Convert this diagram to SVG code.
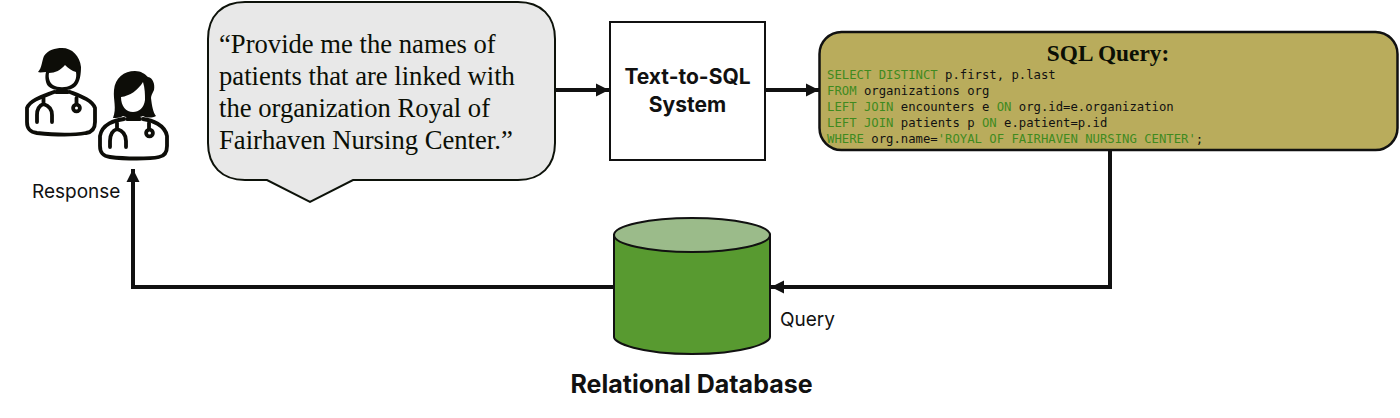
<svg xmlns="http://www.w3.org/2000/svg" width="1400" height="418" viewBox="0 0 1400 418">
<style>
.sans{font-family:"Inter","Liberation Sans",sans-serif;fill:#111}
.serif{font-family:"Liberation Serif","Times New Roman",serif;fill:#0b0f05}
.mono{font-family:"DejaVu Sans Mono","Liberation Mono",monospace;font-size:12.25px;fill:#111}
.kw{fill:#3f8a1f}
.conn{fill:none;stroke:#111;stroke-width:4}
.icon{fill:none;stroke:#0d0d08;stroke-width:3.800;stroke-linecap:round;stroke-linejoin:round}
.hair{fill:#0d0d08;stroke:none}
.face{fill:#fff;stroke:none}
</style>
<defs>
<marker id="arrow" markerUnits="userSpaceOnUse" markerWidth="14" markerHeight="14" refX="13" refY="7" orient="auto"><path d="M0,0.5L13,7L0,13.500Z" fill="#111"/></marker>
</defs>
<rect width="1400" height="418" fill="#fff"/>
<g id="connectors">
<path class="conn" d="M556,90H609" marker-end="url(#arrow)"/>
<path class="conn" d="M766,90H819" marker-end="url(#arrow)"/>
<path class="conn" d="M1110,151V287H771" marker-end="url(#arrow)"/>
<path class="conn" d="M614,287H133V169" marker-end="url(#arrow)"/>
</g>
<g id="doctor-male">
<path class="hair" d="M38,72C42,68 42,60 44,56C48,50 55,48 62,48C72,48 80,56 81,67C81,74 80,82 76,86C70,92 54,92 48,86C45,82 45,76 46,72C43,72 40,73 38,72Z"/>
<path class="face" d="M49,73C55,73 61,70 65,65C68,68 72,71 76,72C77,78 75,83 71,85C66,88 58,88 53,85C50,83 48,78 49,73Z"/>
<path class="icon" d="M54,92C44,96 30,100 27,108V122C27,129 30,132 37,133C55,135 75,135 86,133C93,132 95,128 95,122V108C92,100 80,96 70,92"/>
<path class="icon" d="M56,92H68" stroke-width="3"/>
<path class="icon" d="M43.500,98V104C38,106 37,110 37,115V122M43.500,104C50,106 52,110 52,115V122M76.500,98V104" stroke-width="3"/>
<circle class="icon" cx="76.500" cy="108" r="3.400"/>
</g>
<g id="doctor-female">
<path class="hair" d="M113,118C117,108 113,100 114,90C115,78 124,71 135,71C141,71 145,74 148,77C153,78 155,84 154,90C152,94 151,96 151,98C152,106 153,112 156,116C152,118 147,118 143,116C138,118 128,118 123,116C120,118 116,118 113,118Z"/>
<path class="face" d="M121,97C130,96 138,90 143,82C145,88 145,95 145,100C144,108 139,112 133,112C126,112 121,106 121,97Z"/>
<path class="icon" d="M124,119C115,120 102,124 100,136V146C100,153 103,156 110,157C125,159 150,159 159,157C165,156 167,152 167,146V136C165,125 152,120 143,119"/>
<path class="icon" d="M127,119H140" stroke-width="3"/>
<path class="icon" d="M117,123V129C111,131 110,136 110,141V147M117,129C124,131 126,136 126,141V147M149,123V129" stroke-width="3"/>
<circle class="icon" cx="149.500" cy="133" r="3.400"/>
</g>
<g id="response-label"><text class="sans" x="32" y="198" font-size="19">Response</text></g>
<g id="question-bubble">
<path d="M245,2H518C541,2 555,16 555,39V143C555,166 541,180 518,180H353L310,202L267,180H245C222,180 208,166 208,143V39C208,16 222,2 245,2Z" fill="#e8e8e8" stroke="#0d120a" stroke-width="2"/>
<text class="serif" font-size="26.650"><tspan x="219" y="53">“Provide me the names of</tspan><tspan x="219" y="85">patients that are linked with</tspan><tspan x="219" y="117">the organization Royal of</tspan><tspan x="219" y="149">Fairhaven Nursing Center.”</tspan></text>
</g>
<g id="text-to-sql">
<rect x="610" y="22" width="155" height="138" fill="#fff" stroke="#111" stroke-width="2"/>
<text class="sans" font-size="21" font-weight="700" text-anchor="middle"><tspan x="687.500" y="84">Text-to-SQL</tspan><tspan x="687.500" y="112">System</tspan></text>
</g>
<g id="sql-query">
<rect x="819.500" y="32" width="578" height="118" rx="22" fill="#b9ac5c" stroke="#111" stroke-width="2.500"/>
<text class="serif" x="1108" y="61" font-size="23.300" font-weight="700" text-anchor="middle">SQL Query:</text>
<text class="mono" x="827" y="79"><tspan class="kw">SELECT DISTINCT</tspan> p.first, p.last</text>
<text class="mono" x="827" y="95"><tspan class="kw">FROM</tspan> organizations org</text>
<text class="mono" x="827" y="111"><tspan class="kw">LEFT JOIN</tspan> encounters e <tspan class="kw">ON</tspan> org.id=e.organization</text>
<text class="mono" x="827" y="127"><tspan class="kw">LEFT JOIN</tspan> patients p <tspan class="kw">ON</tspan> e.patient=p.id</text>
<text class="mono" x="827" y="143"><tspan class="kw">WHERE</tspan> org.name=<tspan class="kw">'ROYAL OF FAIRHAVEN NURSING CENTER'</tspan>;</text>
</g>
<g id="relational-database">
<path d="M614,235V337C614,343 640,354 692,354C744,354 770,343 770,337V235Z" fill="#589a30" stroke="#111" stroke-width="2"/>
<ellipse cx="692" cy="235" rx="78" ry="17" fill="#9bbb8a" stroke="#111" stroke-width="2"/>
<text class="sans" x="691.500" y="393" font-size="25" font-weight="700" text-anchor="middle">Relational Database</text>
</g>
<g id="query-label"><text class="sans" x="780" y="326" font-size="19">Query</text></g>
</svg>
